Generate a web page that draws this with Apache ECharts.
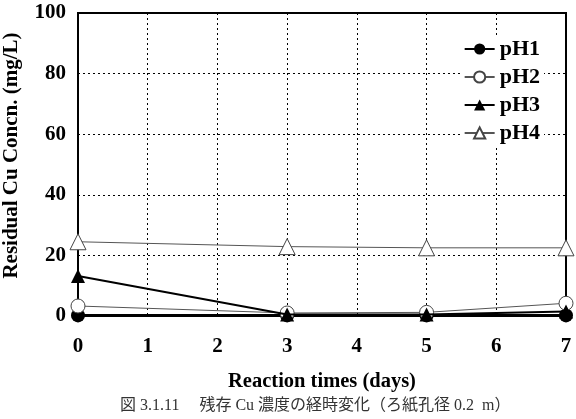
<!DOCTYPE html>
<html>
<head>
<meta charset="utf-8">
<script src="https://cdn.jsdelivr.net/npm/echarts@6/dist/echarts.min.js"></script>
<style>
  html, body { margin: 0; padding: 0; background: #fff; }
  #chart { width: 576px; height: 419px; }
</style>
</head>
<body>
<div id="chart"></div>
<script>
// データ
const days = [0, 3, 5, 7]
const ph1 = [0.2, 0.2, 0.2, 0.2]
const ph2 = [3.3, 1.0, 1.2, 4.2]
const ph3 = [13.2, 0.5, 0.5, 1.5]
const ph4 = [24.5, 22.9, 22.5, 22.5]
const seriesNames = ['pH1', 'pH2', 'pH3', 'pH4']
const caption = '図 3.1.11　 残存 Cu 濃度の経時変化（ろ紙孔径 0.2  m）'

const serif = '"Liberation Serif", "DejaVu Serif", serif'

const pairs = (vals) => days.map((d, i) => [d, vals[i]])

const chart = echarts.init(document.getElementById('chart'))

const option = {
  animation: false,
  title: {
    text: caption,
    left: 115,
    top: 393,
    textStyle: {
      fontFamily: '"Liberation Serif", "Noto Sans CJK JP", serif',
      fontSize: 16,
      fontWeight: 'normal',
      color: '#333'
    }
  },
  legend: {
    data: seriesNames,
    orient: 'vertical',
    right: 32,
    top: 36,
    itemWidth: 30,
    itemHeight: 14,
    itemGap: 6,
    backgroundColor: '#fff',
    padding: [2, 4, 2, 2],
    textStyle: {
      fontFamily: serif,
      fontWeight: 'bold',
      fontSize: 22,
      color: '#000',
      padding: [0, 0, 0, 0]
    }
  },
  grid: {
    left: 78,
    right: 10,
    top: 13,
    bottom: 103,
    outerBoundsMode: 'none',
    show: true,
    borderColor: '#000',
    borderWidth: 2
  },
  xAxis: {
    type: 'value',
    min: 0,
    max: 7,
    interval: 1,
    name: 'Reaction times (days)',
    nameLocation: 'middle',
    nameGap: 55,
    nameTextStyle: {
      fontFamily: serif,
      fontWeight: 'bold',
      fontSize: 20.5,
      color: '#000'
    },
    axisLine: { lineStyle: { color: '#000', width: 2 } },
    axisTick: { show: false },
    axisLabel: {
      margin: 20,
      fontFamily: serif,
      fontWeight: 'bold',
      fontSize: 21,
      color: '#000'
    },
    splitLine: { lineStyle: { color: '#000', type: [2, 3], width: 1 } }
  },
  yAxis: {
    type: 'value',
    min: 0,
    max: 100,
    interval: 20,
    name: 'Residual Cu Concn. (mg/L)',
    nameLocation: 'middle',
    nameGap: 56,
    nameTextStyle: {
      fontFamily: serif,
      fontWeight: 'bold',
      fontSize: 21,
      color: '#000',
      padding: [0, 0, 0, 18]
    },
    axisLine: { lineStyle: { color: '#000', width: 2 } },
    axisTick: { show: false },
    axisLabel: {
      margin: 12,
      fontFamily: serif,
      fontWeight: 'bold',
      fontSize: 21,
      color: '#000'
    },
    splitLine: { lineStyle: { color: '#000', type: [2, 3], width: 1 } }
  },
  series: [
    {
      name: 'pH1',
      type: 'line',
      data: pairs(ph1),
      symbol: 'circle',
      symbolSize: 14,
      lineStyle: { color: '#000', width: 3 },
      itemStyle: { color: '#000' },
      z: 2
    },
    {
      name: 'pH2',
      type: 'line',
      data: pairs(ph2),
      symbol: 'circle',
      symbolSize: 14,
      lineStyle: { color: '#555', width: 1 },
      itemStyle: { color: '#fff', borderColor: '#444', borderWidth: 1 },
      z: 3
    },
    {
      name: 'pH3',
      type: 'line',
      data: pairs(ph3),
      symbol: 'triangle',
      symbolSize: 14,
      lineStyle: { color: '#000', width: 2 },
      itemStyle: { color: '#000' },
      z: 4
    },
    {
      name: 'pH4',
      type: 'line',
      data: pairs(ph4),
      symbol: 'triangle',
      symbolSize: 16,
      lineStyle: { color: '#555', width: 1 },
      itemStyle: { color: '#fff', borderColor: '#444', borderWidth: 1 },
      z: 5
    }
  ]
}

chart.setOption(option)
</script>
</body>
</html>
